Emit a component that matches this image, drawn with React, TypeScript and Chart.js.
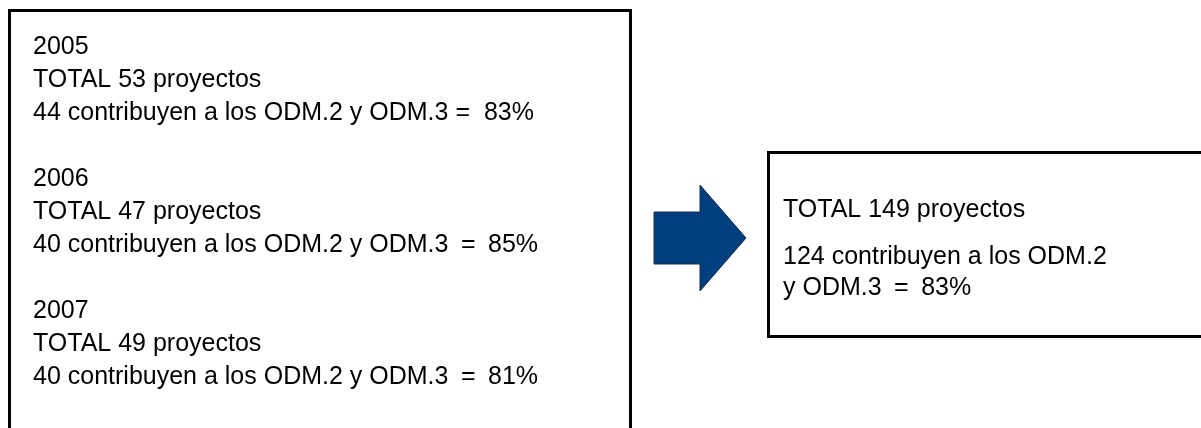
import React, { useEffect, useRef } from "react";
import { Chart, registerables } from "chart.js";

Chart.register(...registerables);

// ---- data ----
const years = ["2005", "2006", "2007"];
const totals = [53, 47, 49];
const contributing = [44, 40, 40];
const percents = [83, 85, 81];
const overallTotal = 149;
const overallContributing = 124;
const overallPercent = 83;
const goalsLabel = "ODM.2 y ODM.3";

const FONT = '25px "Liberation Sans", Arial, Helvetica, sans-serif';
const EQ = "\u2002=\u2002";

const diagramPlugin = {
  id: "diagram",
  afterDraw(chart: any) {
    const { ctx } = chart;
    const xs = chart.scales.x;
    const ys = chart.scales.y;
    const X = (v: number) => xs.getPixelForValue(v);
    const Y = (v: number) => ys.getPixelForValue(v);
    ctx.save();

    // left box (open at the bottom edge)
    ctx.strokeStyle = "#000";
    ctx.lineWidth = 3;
    ctx.beginPath();
    ctx.moveTo(X(9.5), Y(440));
    ctx.lineTo(X(9.5), Y(10.5));
    ctx.lineTo(X(630.5), Y(10.5));
    ctx.lineTo(X(630.5), Y(440));
    ctx.stroke();

    // right box
    ctx.beginPath();
    ctx.moveTo(X(1210), Y(152.5));
    ctx.lineTo(X(768.5), Y(152.5));
    ctx.lineTo(X(768.5), Y(336.5));
    ctx.lineTo(X(1210), Y(336.5));
    ctx.stroke();

    // arrow
    ctx.beginPath();
    ctx.moveTo(X(654), Y(212));
    ctx.lineTo(X(700), Y(212));
    ctx.lineTo(X(700), Y(185));
    ctx.lineTo(X(746), Y(238));
    ctx.lineTo(X(700), Y(291));
    ctx.lineTo(X(700), Y(264));
    ctx.lineTo(X(654), Y(264));
    ctx.closePath();
    ctx.fillStyle = "#003f7e";
    ctx.fill();
    ctx.lineWidth = 1;
    ctx.strokeStyle = "#1c2a44";
    ctx.stroke();

    // text
    ctx.fillStyle = "#000";
    ctx.font = FONT;
    ctx.textAlign = "left";
    ctx.textBaseline = "alphabetic";
    const pitch = 33;
    let line = 0;
    years.forEach((yr, i) => {
      const eq = i === 0 ? " =  " : EQ;
      const lines = [
        yr,
        `TOTAL ${totals[i]} proyectos`,
        `${contributing[i]} contribuyen a los ${goalsLabel}${eq}${percents[i]}%`,
      ];
      lines.forEach((t) => {
        ctx.fillText(t, X(33), Y(54 + pitch * line));
        line++;
      });
      line++;
    });

    ctx.fillText(`TOTAL ${overallTotal} proyectos`, X(783), Y(217));
    ctx.fillText(`${overallContributing} contribuyen a los ODM.2`, X(783), Y(264));
    ctx.fillText(`y ODM.3${EQ}${overallPercent}%`, X(783), Y(295));

    ctx.restore();
  },
};

export default function App() {
  const ref = useRef<HTMLCanvasElement>(null);
  useEffect(() => {
    document.body.style.margin = "0";
    const chart = new Chart(ref.current as HTMLCanvasElement, {
      type: "scatter",
      data: { datasets: [{ data: [], pointRadius: 0 }] },
      options: {
        animation: false,
        responsive: true,
        maintainAspectRatio: false,
        layout: { padding: 0 },
        plugins: { legend: { display: false }, tooltip: { enabled: false } },
        scales: {
          x: { type: "linear", min: 0, max: 1201, display: false },
          y: { type: "linear", min: 0, max: 428, reverse: true, display: false },
        },
      },
      plugins: [diagramPlugin],
    });
    return () => chart.destroy();
  }, []);
  return (
    <div style={{ position: "absolute", left: 0, top: 0, width: 1201, height: 428, background: "#fff" }}>
      <canvas ref={ref} />
    </div>
  );
}
